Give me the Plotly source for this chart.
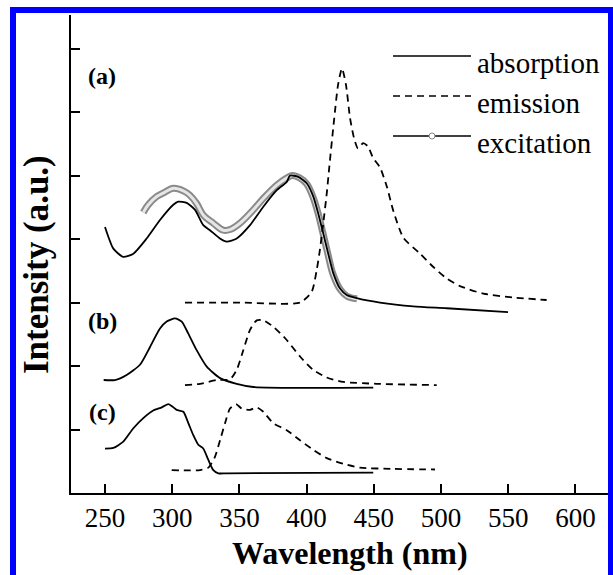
import plotly.graph_objects as go

# ---------------- data (wavelength nm, intensity a.u.) ----------------
abs_a_x = [250, 256.2, 263.6, 271.1, 281.0, 290.9, 300.8, 304.5, 310.8, 317.0, 323.1, 328.1,
           335.5, 340.6, 348.0, 357.9, 367.8, 377.8, 385.2, 387.6, 393.8, 400.1, 405.0, 408.7,
           412.4, 416.1, 419.9, 424.9, 429.8, 437.3, 454.6, 479.4, 504.2, 549.9]
abs_a_y = [4.19, 3.85, 3.72, 3.77, 4.01, 4.30, 4.54, 4.59, 4.57, 4.46, 4.22, 4.14,
           4.01, 3.96, 4.01, 4.22, 4.51, 4.77, 4.90, 5.00, 4.98, 4.88, 4.67, 4.40,
           4.09, 3.77, 3.46, 3.22, 3.12, 3.07, 3.00, 2.94, 2.91, 2.85]

exc_a_x = [278.5, 282.2, 288.5, 294.6, 300.8, 308.3, 313.2, 318.2, 323.1, 330.6, 338.0, 343.0,
           350.4, 360.3, 367.8, 377.8, 385.2, 389.1, 395.1, 400.1, 404.8, 408.5, 412.2, 415.9,
           419.6, 424.9, 430.1, 437.5]
exc_a_y = [4.42, 4.54, 4.67, 4.74, 4.80, 4.76, 4.69, 4.56, 4.38, 4.25, 4.14, 4.15,
           4.25, 4.46, 4.64, 4.85, 4.96, 5.00, 4.96, 4.87, 4.66, 4.41, 4.09, 3.76,
           3.45, 3.21, 3.10, 3.06]

em_a_x = [309.5, 350.4, 395.1, 403.8, 407.5, 409.9, 412.4, 415.0, 416.9, 420.4, 423.4, 426.3,
          429.3, 432.3, 435.3, 438.2, 442.0, 445.7, 449.4, 454.6, 459.8, 464.3, 472.0, 484.4,
          494.3, 504.2, 514.1, 531.5, 553.8, 578.6]
em_a_y = [3.00, 3.00, 3.00, 3.17, 3.51, 3.83, 4.25, 4.72, 5.14, 5.87, 6.43, 6.69,
          6.43, 5.91, 5.59, 5.43, 5.51, 5.46, 5.28, 5.13, 4.82, 4.46, 4.02, 3.77,
          3.56, 3.38, 3.26, 3.14, 3.08, 3.04]

abs_b_x = [249, 257.4, 266.1, 276.0, 283.5, 290.9, 295.9, 302.1, 307.1, 312.0, 318.2, 325.7,
           335.6, 348.0, 360.3, 449.6]
abs_b_y = [1.78, 1.78, 1.86, 2.02, 2.30, 2.59, 2.70, 2.75, 2.70, 2.51, 2.25, 1.99,
           1.81, 1.72, 1.67, 1.66]

em_b_x = [309.5, 320.7, 333.1, 343.0, 348.0, 352.9, 357.9, 362.9, 367.8, 375.2, 385.2, 395.1,
          404.9, 415.0, 427.3, 452.2, 496.8]
em_b_y = [1.70, 1.72, 1.78, 1.79, 1.94, 2.25, 2.57, 2.72, 2.72, 2.62, 2.41, 2.15,
          1.94, 1.82, 1.75, 1.72, 1.70]

abs_c_x = [250.0, 256.2, 263.6, 271.1, 278.5, 285.9, 292.2, 297.1, 299.6, 303.3, 308.3, 312.0,
           315.7, 319.4, 323.1, 326.9, 330.6, 334.3, 340.6, 449.6]
abs_c_y = [0.70, 0.71, 0.81, 1.02, 1.18, 1.30, 1.35, 1.40, 1.37, 1.31, 1.28, 1.10,
           0.91, 0.76, 0.70, 0.52, 0.36, 0.31, 0.31, 0.32]

em_c_x = [299.6, 320.7, 326.9, 331.8, 335.6, 339.3, 343.0, 347.5, 351.7, 357.9, 362.9, 367.8,
          375.2, 385.2, 395.1, 404.9, 415.0, 427.3, 439.7, 464.5, 495.5]
em_c_y = [0.36, 0.36, 0.40, 0.57, 0.83, 1.10, 1.33, 1.40, 1.33, 1.31, 1.35, 1.28,
          1.10, 0.99, 0.83, 0.68, 0.55, 0.46, 0.40, 0.38, 0.37]

x_ticks = [250, 300, 350, 400, 450, 500, 550, 600]
y_ticks = [1, 2, 3, 4, 5, 6, 7]
panel_labels = ["(a)", "(b)", "(c)"]
legend_names = ["absorption", "emission", "excitation"]

# ---------------- figure ----------------
W, H = 613, 575
ML, MR, MT, MB = 71, 4, 15, 82
PW, PH = W - ML - MR, H - MT - MB


def px(x):
    return (x - ML) / PW


def py(y):
    return (H - MB - y) / PH


SERIF = "Liberation Serif, Times New Roman, serif"
DASH = "7px,5px"
LW = 1.8

fig = go.Figure()

# excitation as a grey hollow band
fig.add_trace(go.Scatter(x=exc_a_x, y=exc_a_y, mode="lines",
                         line=dict(color="#8a8a8a", width=7, shape="spline"),
                         hoverinfo="skip", showlegend=False))
fig.add_trace(go.Scatter(x=exc_a_x, y=exc_a_y, mode="lines",
                         line=dict(color="#e6e6e6", width=3, shape="spline"),
                         hoverinfo="skip", showlegend=False))

for xs, ys in [(abs_a_x, abs_a_y), (abs_b_x, abs_b_y), (abs_c_x, abs_c_y)]:
    fig.add_trace(go.Scatter(x=xs, y=ys, mode="lines",
                             line=dict(color="black", width=LW, shape="spline", smoothing=0.6),
                             showlegend=False))
for xs, ys in [(em_a_x, em_a_y), (em_b_x, em_b_y), (em_c_x, em_c_y)]:
    fig.add_trace(go.Scatter(x=xs, y=ys, mode="lines",
                             line=dict(color="black", width=LW, dash=DASH, shape="spline", smoothing=0.6),
                             showlegend=False))

shapes = []
annotations = []

# manual legend
leg_y = [56, 96, 136]
leg_dash = [None, DASH, None]
for i, name in enumerate(legend_names):
    ln = dict(color="black", width=1.6)
    if leg_dash[i]:
        ln["dash"] = leg_dash[i]
    shapes.append(dict(type="line", xref="paper", yref="paper",
                       x0=px(393), x1=px(471), y0=py(leg_y[i]), y1=py(leg_y[i]), line=ln))
    annotations.append(dict(text=name, xref="paper", yref="paper", x=px(475), y=py(leg_y[i] + 7),
                            xanchor="left", yanchor="middle", showarrow=False,
                            font=dict(family=SERIF, size=29, color="black")))
shapes.append(dict(type="circle", xref="paper", yref="paper",
                   x0=px(429), x1=px(435), y0=py(133), y1=py(139),
                   line=dict(color="#888888", width=1), fillcolor="white"))

# panel labels
for lab, yy in zip(panel_labels, [76, 321, 412]):
    annotations.append(dict(text="<b>%s</b>" % lab, xref="paper", yref="paper",
                            x=px(102), y=py(yy), xanchor="center", yanchor="middle",
                            showarrow=False, font=dict(family=SERIF, size=24, color="black")))

# axis titles
annotations.append(dict(text="<b>Wavelength (nm)</b>", xref="paper", yref="paper",
                        x=px(350), y=py(553), xanchor="center", yanchor="middle",
                        showarrow=False, font=dict(family=SERIF, size=32, color="black")))
annotations.append(dict(text="<b>Intensity (a.u.)</b>", xref="paper", yref="paper",
                        x=px(36), y=py(265), xanchor="center", yanchor="middle", textangle=-90,
                        showarrow=False, font=dict(family=SERIF, size=35, color="black")))

# blue frame
shapes.append(dict(type="path", xref="paper", yref="paper", layer="above",
                   path="M %f,%f L %f,%f L %f,%f L %f,%f" % (
                       px(13), py(600), px(13), py(10), px(611), py(10), px(611), py(600)),
                   line=dict(color="#0000ff", width=6)))

fig.update_layout(
    width=W, height=H,
    margin=dict(l=ML, r=MR, t=MT, b=MB),
    paper_bgcolor="white", plot_bgcolor="white",
    showlegend=False,
    shapes=shapes, annotations=annotations,
    xaxis=dict(range=[224.7, 625.0], tickvals=x_ticks, ticks="inside", ticklen=9,
               tickwidth=1.5, tickcolor="black", showline=True, linecolor="black",
               linewidth=1.5, showgrid=False, zeroline=False, mirror=False,
               tickfont=dict(family=SERIF, size=27, color="black")),
    yaxis=dict(range=[0, 7.53], tickvals=y_ticks, ticks="inside", ticklen=9,
               tickwidth=1.5, tickcolor="black", showline=True, linecolor="black",
               linewidth=1.5, showgrid=False, zeroline=False, mirror=False,
               showticklabels=False),
)

fig.write_html("out.html")
